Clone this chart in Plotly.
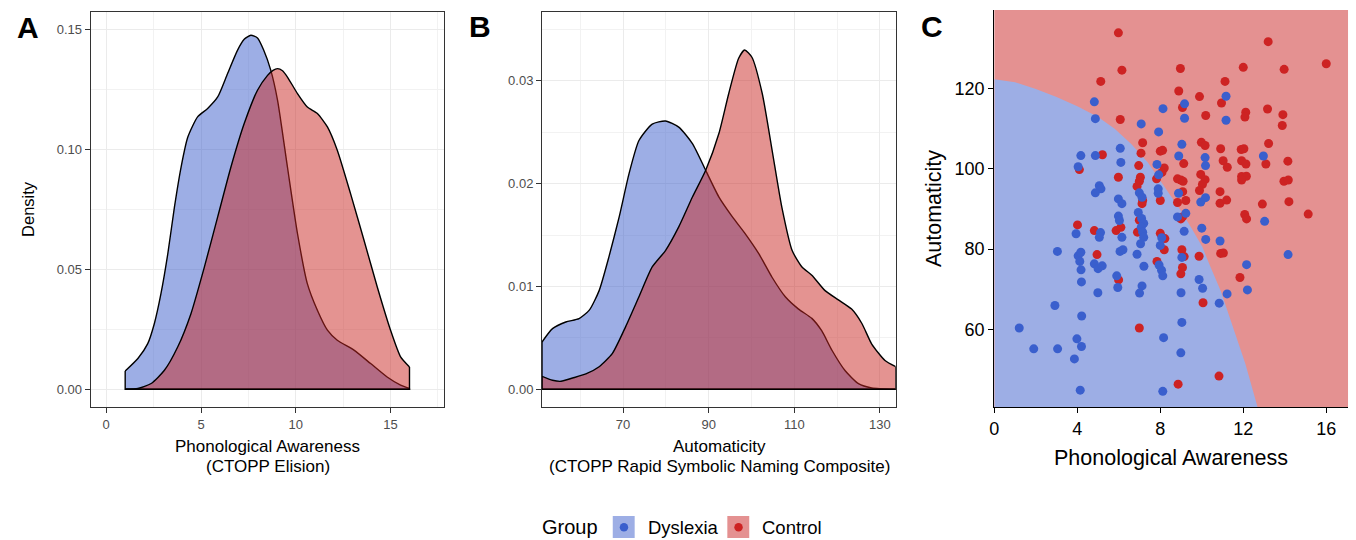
import plotly.graph_objects as go

W, H = 1356, 540

# ---------------- Panel A: phonological awareness densities ----------------
pa_dys_x = [1.0, 1.67, 2.19, 2.54, 2.89, 3.25, 3.6, 3.95, 4.3, 4.82, 5.35, 5.88, 6.4, 6.93,
            7.28, 7.63, 7.98, 8.3, 8.68, 9.04, 9.56, 10.09, 10.61, 11.14, 11.67, 12.19, 13.07,
            13.95, 14.82, 15.53, 16.0]
pa_dys_d = [0.0076, 0.0128, 0.019, 0.0274, 0.0399, 0.0565, 0.076, 0.0926, 0.105, 0.1135,
            0.117, 0.1218, 0.1315, 0.1413, 0.1458, 0.1475, 0.1464, 0.1415, 0.133, 0.1204,
            0.0926, 0.0649, 0.044, 0.0329, 0.0246, 0.0204, 0.0163, 0.0107, 0.0051, 0.0017,
            0.0003]
pa_ctl_x = [1.0, 1.67, 2.37, 3.07, 3.77, 4.47, 5.18, 5.88, 6.58, 7.28, 7.98, 8.51, 8.8, 9.04,
            9.3, 9.56, 10.09, 10.61, 11.14, 11.67, 12.19, 12.89, 13.6, 14.3, 15.0, 15.53, 16.0]
pa_ctl_d = [0.0, 0.0003, 0.0024, 0.0079, 0.0176, 0.0315, 0.051, 0.0718, 0.0926, 0.1107,
            0.1246, 0.1308, 0.1329, 0.1336, 0.1327, 0.1301, 0.1232, 0.1176, 0.1149, 0.1093,
            0.0996, 0.0815, 0.0621, 0.0426, 0.0246, 0.0135, 0.0093]

# ---------------- Panel B: automaticity densities ----------------
au_dys_x = [51.05, 53.5, 56.6, 59.7, 62.1, 64.4, 66.7, 69.1, 71.4, 73.7, 76.8, 79.9, 83.0,
            86.2, 89.3, 92.4, 95.5, 98.6, 101.7, 104.8, 107.9, 111.0, 114.1, 116.4, 118.8,
            121.9, 125.0, 128.1, 133.7]
au_dys_d = [0.0046, 0.0059, 0.00655, 0.00688, 0.0077, 0.0096, 0.0129, 0.0168, 0.021, 0.0242,
            0.0258, 0.0261, 0.0255, 0.0239, 0.0213, 0.0187, 0.0168, 0.0151, 0.0132, 0.0109,
            0.009, 0.0078, 0.0069, 0.0057, 0.0038, 0.0018, 0.00055, 0.00013, 0.0]
au_ctl_x = [51.05, 53.5, 55.5, 58.2, 61.3, 64.4, 67.5, 70.6, 73.7, 76.8, 79.9, 83.0, 86.2,
            89.3, 92.4, 94.7, 97.0, 98.4, 100.1, 102.5, 104.8, 107.1, 109.5, 111.8, 114.1,
            117.2, 120.3, 123.4, 125.8, 128.1, 131.2, 133.7]
au_ctl_d = [0.00126, 0.00088, 0.00078, 0.0011, 0.0015, 0.0022, 0.0035, 0.0061, 0.009, 0.0119,
            0.0135, 0.0158, 0.0187, 0.0213, 0.0249, 0.0288, 0.0322, 0.033, 0.0323, 0.0288,
            0.0233, 0.0177, 0.0135, 0.0119, 0.0111, 0.0096, 0.0087, 0.0078, 0.0064, 0.0044,
            0.0028, 0.0022]

# ---------------- Panel C: individual scores ----------------
dys_pa = [4.82, 4.87, 8.13, 9.17, 9.17, 11.17, 11.17, 7.08, 7.92, 9.04, 6.07, 4.17, 4.87,
          4.04, 6.1, 7.84, 8.89, 10.16, 10.18, 12.97, 5.06, 5.14, 4.87, 5.98, 6.15, 6.99,
          7.12, 7.9, 7.9, 7.92, 8.88, 9.95, 10.18, 5.98, 6.03, 6.94, 7.1, 7.2, 7.08, 7.15,
          7.2, 7.05, 6.15, 5.12, 5.06, 3.94, 8.83, 9.23, 9.15, 8.07, 8.0, 10.0, 10.19, 10.88,
          13.03, 3.04, 4.04, 4.17, 4.12, 4.18, 4.2, 4.82, 5.0, 5.2, 4.99, 2.92, 4.21, 1.2,
          1.9, 3.05, 3.98, 4.2, 3.86, 4.14, 6.06, 6.2, 5.9, 5.95, 6.88, 7.21, 7.12, 7.0,
          7.94, 8.06, 8.12, 9.04, 9.87, 10.04, 9.0, 9.04, 8.16, 8.99, 8.12, 10.84, 11.22,
          12.16, 12.2, 14.16]
dys_auto = [116.7, 112.5, 115.0, 116.2, 112.6, 118.1, 112.1, 111.2, 109.2, 106.1, 105.1,
            103.3, 103.3, 100.5, 101.6, 101.1, 103.2, 102.8, 100.8, 103.2, 95.8, 95.0, 94.0,
            92.5, 91.3, 94.0, 92.9, 95.0, 93.9, 98.5, 93.9, 91.7, 92.8, 88.2, 87.1, 89.1,
            87.6, 86.4, 85.4, 84.2, 82.9, 81.3, 82.9, 84.1, 82.9, 83.8, 88.0, 88.9, 84.4,
            82.8, 80.9, 85.2, 82.4, 82.0, 86.9, 79.4, 78.3, 79.2, 76.9, 74.8, 71.8, 76.3,
            75.1, 75.8, 69.1, 65.9, 63.3, 60.3, 55.1, 55.1, 57.6, 55.7, 52.6, 44.8, 79.4,
            79.8, 73.3, 70.4, 78.7, 75.7, 70.8, 69.0, 76.0, 74.7, 73.3, 77.9, 72.4, 70.2,
            69.1, 61.7, 57.9, 54.1, 44.5, 66.5, 68.8, 76.1, 69.8, 78.6]
ctl_pa = [5.98, 13.2, 16.0, 6.15, 8.97, 12.0, 13.97, 5.13, 11.12, 8.89, 9.89, 9.07, 10.95,
          12.12, 12.08, 13.17, 13.91, 13.88, 10.19, 6.07, 7.15, 7.07, 9.98, 10.16, 10.91,
          11.9, 12.03, 13.22, 8.0, 8.11, 5.21, 4.1, 6.96, 5.98, 7.04, 6.99, 6.88, 7.15, 7.12,
          8.0, 7.82, 8.19, 8.08, 8.83, 8.99, 9.1, 9.13, 9.08, 8.83, 9.23, 9.95, 10.16, 10.03,
          9.89, 11.03, 11.23, 10.88, 10.88, 11.2, 11.92, 12.13, 11.92, 12.15, 11.92, 13.09,
          14.15, 13.96, 14.17, 14.2, 12.92, 15.13, 12.07, 12.16, 4.01, 4.82, 5.87, 6.1, 6.99,
          6.9, 8.0, 8.99, 9.07, 8.19, 4.95, 5.99, 6.99, 7.84, 9.04, 9.15, 9.07, 8.99, 9.87,
          10.06, 10.91, 11.04, 11.84, 10.83, 8.86, 8.22]
ctl_auto = [133.9, 131.7, 126.2, 124.6, 125.0, 125.3, 124.8, 121.8, 121.8, 119.4, 118.0,
            115.3, 116.4, 114.1, 112.9, 114.9, 113.5, 110.8, 113.3, 112.3, 106.5, 103.9,
            106.6, 105.8, 105.0, 104.8, 105.0, 106.3, 104.4, 104.6, 103.5, 99.8, 100.8, 97.9,
            97.9, 96.9, 95.6, 92.1, 91.3, 92.1, 97.5, 100.2, 99.1, 97.5, 97.2, 96.9, 101.3,
            94.3, 91.6, 92.1, 98.6, 97.3, 96.1, 94.6, 102.0, 100.4, 94.3, 91.4, 92.2, 102.0,
            101.2, 98.1, 98.15, 97.2, 101.2, 101.9, 96.9, 97.2, 91.8, 91.2, 88.7, 88.6, 87.5,
            86.0, 84.6, 84.6, 85.4, 87.2, 84.2, 83.9, 87.5, 88.0, 79.8, 78.6, 72.3, 60.3,
            76.9, 79.8, 78.1, 75.4, 73.8, 78.2, 66.6, 78.9, 79.0, 72.9, 48.3, 46.3, 82.6]

# classifier decision boundary (Dyslexia predicted below/left of it)
boundary_pa = [0.0, 1.0, 2.0, 3.0, 4.0, 5.0, 5.8, 6.6, 7.4, 8.2, 8.6, 9.0, 9.55, 10.03,
               10.35, 10.91, 11.55, 12.1, 12.72]
boundary_auto = [122.3, 121.6, 119.9, 117.9, 115.6, 112.9, 110.0, 106.2, 101.6, 95.4, 92.3,
                 89.5, 84.8, 80.5, 76.4, 69.6, 59.8, 51.4, 40.0]

groups = ["Dyslexia", "Control"]

# ---------------- styling ----------------
FONT = "Liberation Sans, Arial, Helvetica, sans-serif"
BLUE_PT = "rgb(58,95,205)"
RED_PT = "rgb(205,35,35)"
BLUE_FILL = "rgba(59,93,203,0.5)"
RED_FILL = "rgba(201,40,35,0.5)"
BLUE_BG = "rgb(157,174,229)"
RED_BG = "rgb(228,145,145)"


def px(x):
    return x / W


def py(y):
    return 1 - y / H


fig = go.Figure()


def add_density(xs, ds, fc, xa, ya):
    # smooth density curve filled down to zero
    fig.add_trace(go.Scatter(x=xs, y=ds, mode="lines", fill="tozeroy", fillcolor=fc,
                             line=dict(color="black", width=1.4, shape="spline", smoothing=0.6),
                             xaxis=xa, yaxis=ya, showlegend=False, hoverinfo="skip"))
    # straight end edges and baseline of the outline
    fig.add_trace(go.Scatter(x=[xs[-1], xs[-1], xs[0], xs[0]], y=[ds[-1], 0, 0, ds[0]],
                             mode="lines", line=dict(color="black", width=1.4),
                             xaxis=xa, yaxis=ya, showlegend=False, hoverinfo="skip"))


add_density(pa_dys_x, pa_dys_d, BLUE_FILL, "x", "y")
add_density(pa_ctl_x, pa_ctl_d, RED_FILL, "x", "y")
add_density(au_dys_x, au_dys_d, BLUE_FILL, "x2", "y2")
add_density(au_ctl_x, au_ctl_d, RED_FILL, "x2", "y2")

# Panel C: predicted Dyslexia region, then the points
fig.add_trace(go.Scatter(x=boundary_pa, y=boundary_auto, mode="lines", fill="tozeroy",
                         fillcolor=BLUE_BG, line=dict(width=0, color=BLUE_BG),
                         xaxis="x3", yaxis="y3", showlegend=False, hoverinfo="skip"))
fig.add_trace(go.Scatter(x=ctl_pa, y=ctl_auto, mode="markers", name=groups[1],
                         marker=dict(color=RED_PT, size=9, line=dict(width=0)),
                         xaxis="x3", yaxis="y3", showlegend=False))
fig.add_trace(go.Scatter(x=dys_pa, y=dys_auto, mode="markers", name=groups[0],
                         marker=dict(color=BLUE_PT, size=9, line=dict(width=0)),
                         xaxis="x3", yaxis="y3", showlegend=False))

# Panel domains (paper fractions, zero margins)
dom_y = [py(407), py(12)]
bw_axis = dict(showline=True, mirror=True, linecolor="#333333", linewidth=1,
               ticks="outside", ticklen=5, tickcolor="#333333", tickwidth=1,
               showgrid=True, gridcolor="#EBEBEB", gridwidth=1.2, zeroline=False,
               tickfont=dict(family=FONT, size=13, color="#4D4D4D"))
minor_grid = dict(showgrid=True, gridcolor="#F2F2F2", gridwidth=0.6)

fig.update_layout(
    width=W, height=H, autosize=False,
    margin=dict(l=0, r=0, t=0, b=0),
    paper_bgcolor="white", plot_bgcolor="white",
    showlegend=False,
    xaxis=dict(domain=[px(86), px(441)], range=[-0.82, 17.84], tick0=0, dtick=5,
               minor=dict(dtick=2.5, **minor_grid), anchor="y", **bw_axis),
    yaxis=dict(domain=dom_y, range=[-0.0074, 0.1572], tick0=0, dtick=0.05, tickformat=".2f",
               minor=dict(dtick=0.025, **minor_grid), anchor="x", **bw_axis),
    xaxis2=dict(domain=[px(539), px(894)], range=[51.05, 133.7], tick0=70, dtick=20,
                minor=dict(dtick=10, **minor_grid), anchor="y2", **bw_axis),
    yaxis2=dict(domain=dom_y, range=[-0.00172, 0.0367], tick0=0, dtick=0.01, tickformat=".2f",
                minor=dict(dtick=0.005, **minor_grid), anchor="x2", **bw_axis),
    xaxis3=dict(domain=[px(993), px(1348)], range=[0, 17.05], tickvals=[0, 4, 8, 12, 16],
                showline=True, mirror=False, linecolor="black", linewidth=1.3,
                ticks="outside", ticklen=5, tickcolor="black", tickwidth=1.2,
                showgrid=False, zeroline=False, anchor="y3",
                tickfont=dict(family=FONT, size=18, color="black")),
    yaxis3=dict(domain=[py(407), py(10)], range=[40.6, 139.6], tickvals=[60, 80, 100, 120],
                showline=True, mirror=False, linecolor="black", linewidth=1.3,
                ticks="outside", ticklen=5, tickcolor="black", tickwidth=1.2,
                showgrid=False, zeroline=False, anchor="x3",
                tickfont=dict(family=FONT, size=18, color="black")),
)

# Panel C background: predicted Control region
fig.add_shape(type="rect", xref="x3 domain", yref="y3 domain", x0=0, x1=1, y0=0, y1=1,
              fillcolor=RED_BG, line=dict(width=0), layer="below")

annotations = []


def text(s, x, y, size, angle=0, xanchor="center", color="black", bold=False):
    if bold:
        s = "<b>" + s + "</b>"
    annotations.append(dict(text=s, x=px(x), y=py(y), xref="paper", yref="paper",
                            showarrow=False, textangle=angle, xanchor=xanchor,
                            yanchor="middle", font=dict(family=FONT, size=size, color=color)))


# panel tags
text("A", 23, 27, 30, bold=True)
text("B", 477, 26, 30, bold=True)
text("C", 930, 26, 30, bold=True)

# axis titles
text("Density", 23, 209, 16.5, angle=-90)
text("Phonological Awareness", 263.5, 446.5, 17)
text("(CTOPP Elision)", 263.5, 466.5, 17)
text("Automaticity", 716.7, 446.5, 17)
text("(CTOPP Rapid Symbolic Naming Composite)", 716.7, 466.5, 17)
text("Automaticity", 933, 208.5, 21.5, angle=-90)
text("Phonological Awareness", 1170, 458, 21.5)

# legend
text("Group", 567, 527, 20)
text(groups[0], 643, 527, 18.5, xanchor="left")
text(groups[1], 758, 527, 18.5, xanchor="left")
fig.update_layout(annotations=annotations)

for x0, bg, pt in [(610, BLUE_BG, BLUE_PT), (725, RED_BG, RED_PT)]:
    fig.add_shape(type="rect", xref="paper", yref="paper", x0=px(x0), x1=px(x0 + 22),
                  y0=py(538), y1=py(516), fillcolor=bg, line=dict(width=0))
    fig.add_shape(type="circle", xref="paper", yref="paper", x0=px(x0 + 7), x1=px(x0 + 15.5),
                  y0=py(531.5), y1=py(523), fillcolor=pt, line=dict(width=0))

fig.write_html("out.html")
